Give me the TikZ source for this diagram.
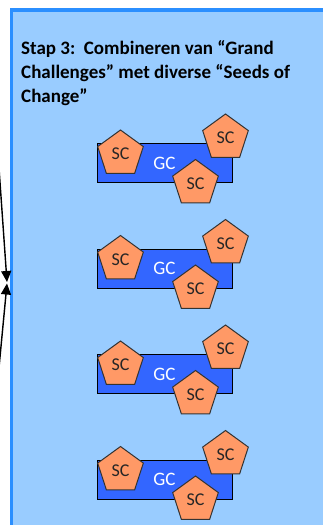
\documentclass[tikz,border=0pt]{standalone}
\usepackage{fontspec}
\setmainfont{Carlito}
\usetikzlibrary{shapes.geometric, arrows.meta}

\definecolor{paneel}{HTML}{99CCFF}
\definecolor{paneelrand}{HTML}{2B8FFF}
\definecolor{gcblauw}{HTML}{3366FF}
\definecolor{scoranje}{HTML}{FF9966}

\begin{document}
\begin{tikzpicture}[x=1pt, y=-1pt, >={Triangle[length=11pt,width=10pt]},
  gc/.style={draw=black, fill=gcblauw, line width=1pt, minimum width=135pt, minimum height=39pt,
    inner sep=0pt, text=white, font=\fontsize{19}{22}\selectfont},
  sc/.style={regular polygon, regular polygon sides=5, draw=black!80, line width=1pt, fill=scoranje,
    minimum size=48pt, inner sep=0pt, text=black!85, font=\fontsize{18}{21}\selectfont}]
  \useasboundingbox (0,0) rectangle (323,525);
  \clip (0,0) rectangle (323,525);

  % panel stap 3
  \fill[paneel] (11,10) rectangle (340,540);
  \draw[paneelrand, line width=3.5pt] (11.3,540) -- (11.3,10) -- (340,10);

  \node[anchor=north west, align=left, inner sep=0pt, font=\bfseries\fontsize{19}{24}\selectfont] (titel) at (21,40)
    {Stap 3:\ \ Combineren van “Grand\\Challenges” met diverse “Seeds of\\Change”};

  % grand challenges met seeds of change
  \foreach \i/\y in {1/163, 2/268.5, 3/374, 4/479.5} {
    \node[gc] (gc\i) at (164.5,\y) {GC};
    \node[sc] (scl\i) at ([shift={(-44,-9)}]gc\i.center) {SC};
    \node[sc] (scr\i) at ([shift={(61,-25)}]gc\i.center) {SC};
    \node[sc] (sco\i) at ([shift={(31,20.5)}]gc\i.center) {SC};
  }

  % pijlen van links
  \coordinate (bronboven) at (-1,168);
  \coordinate (bononder) at (-1,367.5);
  \coordinate (puntboven) at (7,282);
  \coordinate (puntonder) at (7,283.5);
  \draw[->, line width=1.4pt] (bronboven) -- (puntboven);
  \draw[->, line width=1.4pt] (bononder) -- (puntonder);
\end{tikzpicture}
\end{document}
